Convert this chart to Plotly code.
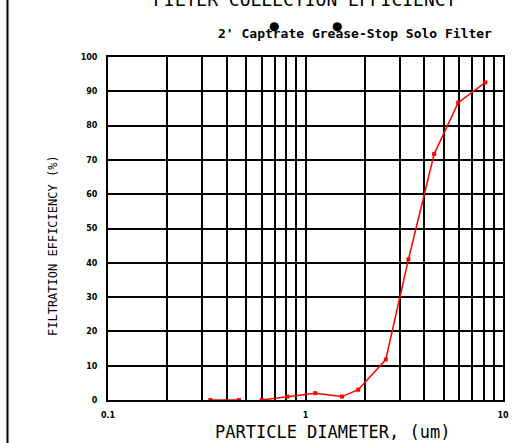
import plotly.graph_objects as go

# Data
diameter_um = [0.33, 0.46, None, 0.60, 0.81, 1.12, 1.53, 1.85, 2.55, 3.32, 4.48, 5.93, 8.14]
efficiency_pct = [0, 0, None, 0, 1, 2, 1, 3, 11.8, 41, 71.7, 86.7, 92.6]

x_grid_vals = [0.1, 0.2, 0.3, 0.4, 0.5, 0.6, 0.7, 0.8, 0.9,
               1, 2, 3, 4, 5, 6, 7, 8, 9, 10]
x_grid_text = ["0.1", "", "", "", "", "", "", "", "",
               "1", "", "", "", "", "", "", "", "", "10"]
y_tick_vals = [0, 10, 20, 30, 40, 50, 60, 70, 80, 90, 100]
y_tick_text = ["0", "10", "20", "30", "40", "50", "60", "70", "80", "90", "100"]

title_text = "FILTER COLLECTION EFFICIENCY"
subtitle_text = "2' Captrate Grease-Stop Solo Filter"
x_title = "PARTICLE DIAMETER, (um)"
y_title = "FILTRATION EFFICIENCY (%)"

W, H = 524, 443
L, R, T, B = 108, 21, 57, 43
pw, ph = W - L - R, H - T - B

def px(x):
    return (x - L) / pw

def py(y):
    return (H - B - y) / ph

mono = "DejaVu Sans Mono"

fig = go.Figure()
fig.add_trace(go.Scatter(
    x=diameter_um, y=efficiency_pct, mode="lines+markers",
    line=dict(color="#ff0000", width=1.5),
    marker=dict(symbol="square", size=4, color="#ff0000"),
    connectgaps=False, showlegend=False, hoverinfo="skip",
))

fig.update_layout(
    width=W, height=H,
    margin=dict(l=L, r=R, t=T, b=B),
    paper_bgcolor="white", plot_bgcolor="white",
    xaxis=dict(
        type="log", range=[-1, 1],
        tickmode="array", tickvals=x_grid_vals, ticktext=x_grid_text,
        showgrid=True, gridcolor="#000000", gridwidth=2,
        showline=True, linecolor="#000000", linewidth=2, mirror=True,
        ticks="", ticklabelstandoff=6,
        tickfont=dict(family="DejaVu Sans", size=8, color="#000000", weight="bold"),
        zeroline=False,
    ),
    yaxis=dict(
        range=[0, 100],
        tickmode="array", tickvals=y_tick_vals, ticktext=y_tick_text,
        showgrid=True, gridcolor="#000000", gridwidth=2,
        showline=True, linecolor="#000000", linewidth=2, mirror=True,
        ticks="", ticklabelstandoff=7,
        tickfont=dict(family="DejaVu Sans", size=8, color="#000000", weight="bold"),
        zeroline=False,
    ),
)

annotations = [
    dict(text=title_text, x=px(305), y=py(0), xref="paper", yref="paper",
         showarrow=False, xanchor="center", yanchor="middle",
         font=dict(family=mono, size=18, color="#000000")),
    dict(text=subtitle_text, x=px(355), y=py(33), xref="paper", yref="paper",
         showarrow=False, xanchor="center", yanchor="middle",
         font=dict(family=mono, size=13, color="#000000", weight="bold")),
    dict(text="●", x=px(274), y=py(26), xref="paper", yref="paper",
         showarrow=False, xanchor="center", yanchor="middle",
         font=dict(family="DejaVu Sans", size=12, color="#000000")),
    dict(text="●", x=px(337), y=py(26), xref="paper", yref="paper",
         showarrow=False, xanchor="center", yanchor="middle",
         font=dict(family="DejaVu Sans", size=12, color="#000000")),
    dict(text=x_title, x=px(332), y=py(432), xref="paper", yref="paper",
         showarrow=False, xanchor="center", yanchor="middle",
         font=dict(family=mono, size=17, color="#000000")),
    dict(text=y_title, x=px(53), y=py(246), xref="paper", yref="paper",
         showarrow=False, xanchor="center", yanchor="middle", textangle=-90,
         font=dict(family=mono, size=12, color="#000000")),
]
fig.update_layout(annotations=annotations)

fig.add_shape(type="line", xref="paper", yref="paper",
              x0=px(7.5), x1=px(7.5), y0=py(H), y1=py(0),
              line=dict(color="#000000", width=2))

fig.write_html("out.html",
               config={"displayModeBar": False},
               post_script="document.body.style.margin='0';document.body.style.overflow='hidden';")
